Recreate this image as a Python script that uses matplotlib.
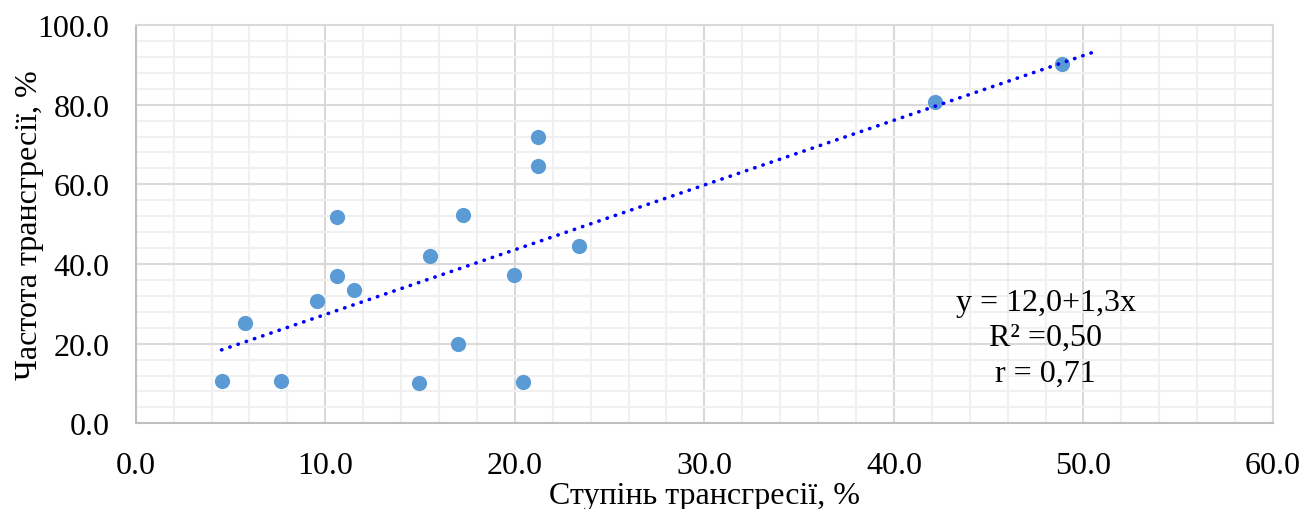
import numpy as np
import matplotlib
matplotlib.use("Agg")
import matplotlib.pyplot as plt
from matplotlib.ticker import MultipleLocator, FormatStrFormatter

# degree of transgression, %
x_vals = [4.53, 5.75, 7.68, 9.59, 10.61, 10.61, 11.52, 14.95, 15.53, 16.99,
          17.29, 19.98, 20.42, 21.24, 21.24, 23.37, 42.19, 48.87]
# frequency of transgression, %
y_vals = [10.6, 25.3, 10.7, 30.6, 51.9, 36.9, 33.5, 10.0, 42.1, 20.0,
          52.2, 37.2, 10.4, 64.5, 71.9, 44.5, 80.7, 90.2]

eq_text = "y = 12,0+1,3x\nR² =0,50\nr = 0,71"

plt.rcParams['font.family'] = ['Liberation Serif', 'DejaVu Serif']

fig = plt.figure(figsize=(13.05, 5.10), dpi=100)
ax = fig.add_axes([0.104, 0.168, 0.8715, 0.781])

x = np.array(x_vals)
y = np.array(y_vals)

ax.scatter(x, y, s=120, color='#5B9BD5', zorder=3, linewidths=0)

# linear trend line, extended slightly forward like Excel
k, b = np.polyfit(x, y, 1)
xt = np.array([x.min(), x.max() + 1.8])
ax.plot(xt, k * xt + b, color='#0000FF', linestyle=(0, (0.1, 2.3)),
        linewidth=2.6, dash_capstyle='round', zorder=4)

ax.text(48.0, 21.5, eq_text, ha='center', va='center', fontsize=23,
        linespacing=1.3, zorder=5)

ax.set_xlim(0, 60)
ax.set_ylim(0, 100)
ax.xaxis.set_major_locator(MultipleLocator(10))
ax.xaxis.set_minor_locator(MultipleLocator(2))
ax.yaxis.set_major_locator(MultipleLocator(20))
ax.yaxis.set_minor_locator(MultipleLocator(4))
ax.xaxis.set_major_formatter(FormatStrFormatter('%.1f'))
ax.yaxis.set_major_formatter(FormatStrFormatter('%.1f'))

ax.grid(which='major', color='#D9D9D9', linewidth=1.5, zorder=0)
ax.grid(which='minor', color='#F0F0F0', linewidth=1.5, zorder=0)
ax.set_axisbelow(True)

ax.tick_params(which='both', length=0, labelsize=23)
ax.tick_params(axis='y', pad=19)
ax.tick_params(axis='x', pad=20)
for side in ['left', 'bottom']:
    ax.spines[side].set_color('#BFBFBF')
    ax.spines[side].set_linewidth(1.5)
for side in ['top', 'right']:
    ax.spines[side].set_color('#D9D9D9')
    ax.spines[side].set_linewidth(1.5)

ax.set_xlabel('Ступінь трансгресії, %', fontsize=23, labelpad=1)
ax.set_ylabel('Частота трансгресії, %', fontsize=23, labelpad=-5)

fig.savefig('out.png', dpi=100)
